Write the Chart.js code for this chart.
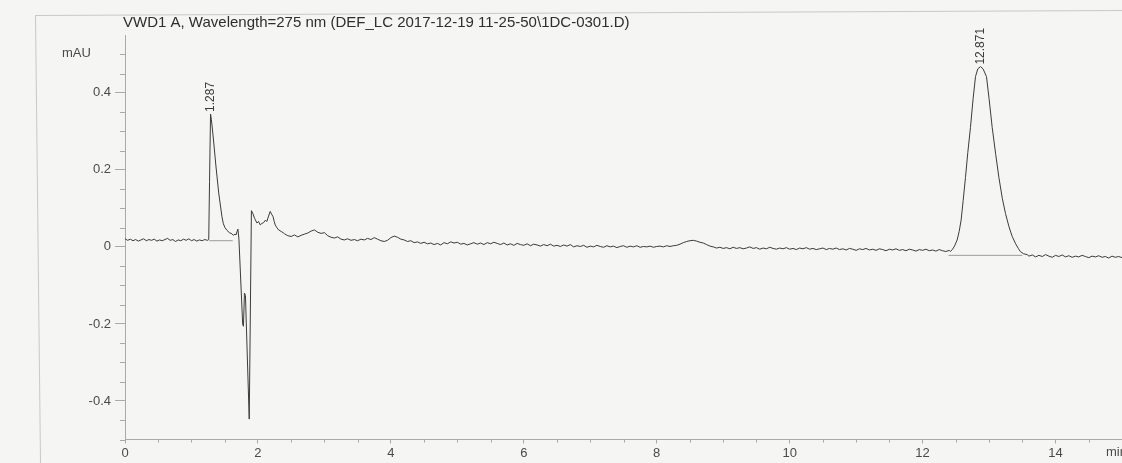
<!DOCTYPE html>
<html>
<head>
<meta charset="utf-8">
<title>VWD1 A chromatogram</title>
<script src="https://cdn.jsdelivr.net/npm/chart.js@4.4.1/dist/chart.umd.min.js"></script>
<style>
  html, body { margin: 0; padding: 0; background: #f5f5f3; }
  #wrap { position: relative; width: 1122px; height: 463px; }
</style>
</head>
<body>
<div id="wrap"><canvas id="chrom"></canvas></div>
<script>
// Detector trace, [retention time (min), absorbance (mAU)], split by region.
const leadBaseline = [
  [0,0.021],[0.04,0.017],[0.08,0.020],[0.12,0.016],[0.16,0.019],[0.20,0.015],[0.24,0.018],[0.28,0.021],
  [0.32,0.016],[0.36,0.019],[0.40,0.017],[0.44,0.020],[0.48,0.015],[0.52,0.018],[0.56,0.016],[0.60,0.019],
  [0.64,0.022],[0.68,0.017],[0.72,0.019],[0.76,0.014],[0.80,0.018],[0.84,0.016],[0.88,0.020],[0.92,0.017],
  [0.96,0.021],[1.00,0.016],[1.04,0.019],[1.08,0.015],[1.12,0.018],[1.16,0.016],[1.20,0.019],[1.24,0.017]
];
const solventFront = [
  [1.26,0.019],[1.272,0.17],[1.287,0.345],[1.30,0.33],[1.33,0.28],[1.368,0.21],[1.41,0.14],[1.459,0.078],
  [1.48,0.060],[1.504,0.050],[1.534,0.043],[1.57,0.037],[1.609,0.034],[1.63,0.030],[1.654,0.033],[1.67,0.031],
  [1.684,0.039],[1.699,0.046],[1.714,0.020],[1.77,-0.20],[1.782,-0.206],[1.797,-0.12],[1.812,-0.126],
  [1.869,-0.447],[1.902,0.094],[1.925,0.086],[1.95,0.074],[1.985,0.062],[2.01,0.066],[2.035,0.057],
  [2.06,0.061],[2.086,0.063],[2.11,0.069],[2.135,0.066],[2.16,0.080],[2.185,0.092],[2.205,0.085],
  [2.226,0.079],[2.245,0.066],[2.26,0.057],[2.285,0.050],[2.311,0.044],[2.35,0.040],[2.386,0.036]
];
const midBaseline = [
  [2.40,0.034],[2.45,0.029],[2.50,0.027],[2.55,0.031],[2.60,0.026],[2.65,0.030],[2.70,0.033],[2.75,0.036],
  [2.80,0.041],[2.85,0.044],[2.90,0.038],[2.95,0.035],[3.00,0.037],[3.05,0.029],[3.10,0.025],[3.15,0.023],
  [3.20,0.026],[3.25,0.020],[3.30,0.018],[3.35,0.021],[3.40,0.017],[3.45,0.019],[3.50,0.016],[3.55,0.020],
  [3.60,0.018],[3.65,0.022],[3.70,0.019],[3.75,0.024],[3.80,0.020],[3.85,0.016],[3.90,0.014],[3.95,0.017],
  [4.00,0.024],[4.05,0.028],[4.10,0.025],[4.15,0.020],[4.20,0.018],[4.25,0.014],[4.30,0.016],[4.35,0.011],
  [4.40,0.013],[4.45,0.009],[4.50,0.012],[4.55,0.008],[4.60,0.010],[4.65,0.006],[4.70,0.009],[4.75,0.005],
  [4.80,0.011],[4.85,0.008],[4.90,0.013],[4.95,0.010],[5.00,0.012],[5.05,0.007],[5.10,0.009],[5.15,0.005],
  [5.20,0.008],[5.25,0.011],[5.30,0.007],[5.35,0.010],[5.40,0.006],[5.45,0.011],[5.50,0.008],[5.55,0.012],
  [5.60,0.009],[5.65,0.006],[5.70,0.010],[5.75,0.005],[5.80,0.008],[5.85,0.004],[5.90,0.009],[5.95,0.006],
  [6.00,0.004],[6.05,0.008],[6.10,0.003],[6.15,0.007],[6.20,0.005],[6.25,0.002],[6.30,0.006],[6.35,0.003],
  [6.40,0.007],[6.45,0.002],[6.50,0.004],[6.55,0.001],[6.60,0.005],[6.65,0.002],[6.70,0.006],[6.75,0.000],
  [6.80,0.003],[6.85,0.001],[6.90,0.004],[6.95,-0.001],[7.00,0.002],[7.05,0.000],[7.10,0.004],[7.15,0.001],
  [7.20,-0.001],[7.25,0.003],[7.30,0.000],[7.35,0.002],[7.40,-0.002],[7.45,0.001],[7.50,0.003],[7.55,-0.001],
  [7.60,0.002],[7.65,0.000],[7.70,0.003],[7.75,-0.001],[7.80,0.001],[7.85,0.000],[7.90,0.002],[7.95,-0.001],
  [8.00,0.001],[8.05,0.002],[8.10,0.000],[8.15,0.003],[8.20,0.001],[8.25,0.003],[8.30,0.004],[8.35,0.007],
  [8.40,0.011],[8.45,0.014],[8.50,0.016],[8.55,0.017],[8.60,0.015],[8.65,0.012],[8.70,0.010],[8.75,0.006],
  [8.80,0.002],[8.85,0.000],[8.90,-0.003],[8.95,-0.001],[9.00,-0.004],[9.05,-0.002],[9.10,-0.005],[9.15,-0.001],
  [9.20,-0.004],[9.25,-0.002],[9.30,-0.005],[9.35,-0.003],[9.40,0.000],[9.45,-0.004],[9.50,-0.002],[9.55,-0.006],
  [9.60,-0.003],[9.65,-0.005],[9.70,-0.001],[9.75,-0.004],[9.80,-0.006],[9.85,-0.003],[9.90,-0.005],[9.95,-0.002],
  [10.00,-0.006],[10.05,-0.004],[10.10,-0.007],[10.15,-0.003],[10.20,-0.005],[10.25,-0.002],[10.30,-0.006],
  [10.35,-0.004],[10.40,-0.007],[10.45,-0.005],[10.50,-0.003],[10.55,-0.007],[10.60,-0.004],[10.65,-0.006],
  [10.70,-0.003],[10.75,-0.007],[10.80,-0.005],[10.85,-0.008],[10.90,-0.004],[10.95,-0.006],[11.00,-0.009],
  [11.05,-0.005],[11.10,-0.007],[11.15,-0.004],[11.20,-0.008],[11.25,-0.006],[11.30,-0.009],[11.35,-0.005],
  [11.40,-0.007],[11.45,-0.010],[11.50,-0.006],[11.55,-0.008],[11.60,-0.005],[11.65,-0.009],[11.70,-0.007],
  [11.75,-0.010],[11.80,-0.006],[11.85,-0.008],[11.90,-0.011],[11.95,-0.007],[12.00,-0.009],[12.05,-0.006],
  [12.10,-0.010],[12.15,-0.008],[12.20,-0.011],[12.25,-0.007],[12.30,-0.010],[12.35,-0.012]
];
const mainPeak = [
  [12.40,-0.009],[12.42,-0.012],[12.45,-0.006],[12.48,0.002],[12.52,0.018],[12.55,0.040],[12.58,0.070],
  [12.61,0.120],[12.645,0.180],[12.68,0.245],[12.72,0.310],[12.76,0.385],[12.796,0.442],[12.83,0.462],
  [12.871,0.468],[12.91,0.462],[12.961,0.442],[13.00,0.385],[13.047,0.310],[13.10,0.240],[13.148,0.180],
  [13.20,0.125],[13.247,0.087],[13.30,0.052],[13.348,0.027],[13.40,0.008],[13.44,-0.004],[13.47,-0.012],
  [13.52,-0.018],[13.573,-0.020]
];
const tailBaseline = [
  [13.60,-0.024],[13.65,-0.021],[13.70,-0.026],[13.75,-0.022],[13.80,-0.025],[13.85,-0.020],[13.90,-0.024],
  [13.95,-0.027],[14.00,-0.022],[14.05,-0.025],[14.10,-0.021],[14.15,-0.026],[14.20,-0.023],[14.25,-0.027],
  [14.30,-0.024],[14.35,-0.026],[14.40,-0.022],[14.45,-0.025],[14.50,-0.028],[14.55,-0.024],[14.60,-0.026],
  [14.65,-0.023],[14.70,-0.027],[14.75,-0.025],[14.80,-0.029],[14.85,-0.024],[14.90,-0.027],[14.95,-0.025],
  [15.00,-0.028]
];

// Integration baselines drawn under the two integrated peaks.
const peak1Baseline = [[1.268,0.016],[1.62,0.016]];
const peak2Baseline = [[12.39,-0.022],[13.50,-0.022]];

// Peak annotations: retention time and its printed label.
const peakRetention = [1.287, 12.871];
const peakLabels = ['1.287', '12.871'];

// Axis ticks.
const xMajorTicks = [0, 2, 4, 6, 8, 10, 12, 14];
const xMinorTicks = [0.5,1,1.5,2.5,3,3.5,4.5,5,5.5,6.5,7,7.5,8.5,9,9.5,10.5,11,11.5,12.5,13,13.5,14.5];
const yMajorTicks = [-0.4, -0.2, 0, 0.2, 0.4];
const yMinorTicks = [-0.5,-0.45,-0.35,-0.3,-0.25,-0.15,-0.1,-0.05,0.05,0.1,0.15,0.25,0.3,0.35,0.45,0.5];

const titleText = 'VWD1 A, Wavelength=275 nm (DEF_LC 2017-12-19 11-25-50\\1DC-0301.D)';
const yUnit = 'mAU';
const xUnit = 'min';

const FONT = "'Liberation Sans', Arial, sans-serif";
const trace = [].concat(leadBaseline, solventFront, midBaseline, mainPeak, tailBaseline);
const toXY = arr => arr.map(p => ({ x: p[0], y: p[1] }));

const paperPlugin = {
  id: 'paper',
  beforeDraw(chart) {
    const ctx = chart.ctx;
    ctx.save();
    ctx.fillStyle = '#f5f5f3';
    ctx.fillRect(0, 0, chart.width, chart.height);
    // sheet edge
    ctx.strokeStyle = '#c9c9c6';
    ctx.lineWidth = 1;
    ctx.beginPath();
    ctx.moveTo(35, 15.5); ctx.lineTo(1122, 10.5);
    ctx.moveTo(35.5, 15.5); ctx.lineTo(40.5, 463);
    ctx.stroke();
    ctx.restore();
  },
  beforeDatasetsDraw(chart) {
    const ctx = chart.ctx, xs = chart.scales.x, ys = chart.scales.y;
    const area = chart.chartArea;
    ctx.save();
    ctx.strokeStyle = '#a9a9a7';
    ctx.lineWidth = 1;
    ctx.beginPath();
    yMinorTicks.forEach(v => {
      const y = Math.round(ys.getPixelForValue(v)) + 0.5;
      ctx.moveTo(area.left - 5, y); ctx.lineTo(area.left, y);
    });
    xMinorTicks.forEach(v => {
      const x = Math.round(xs.getPixelForValue(v)) + 0.5;
      ctx.moveTo(x, area.bottom); ctx.lineTo(x, area.bottom + 3);
    });
    ctx.stroke();
    ctx.restore();
  },
  afterDraw(chart) {
    const ctx = chart.ctx, xs = chart.scales.x, ys = chart.scales.y;
    ctx.save();
    ctx.fillStyle = '#2e2e2e';
    ctx.font = '15px ' + FONT;
    ctx.textBaseline = 'alphabetic';
    ctx.textAlign = 'left';
    ctx.fillText(titleText, 123, 27);
    ctx.fillStyle = '#4a4a4a';
    ctx.font = '13px ' + FONT;
    ctx.fillText(yUnit, 62, 57);
    ctx.textBaseline = 'top';
    ctx.fillText(xUnit, 1106, 446);
    // peak retention labels, rotated above each apex
    ctx.font = '12px ' + FONT;
    ctx.fillStyle = '#3a3a3a';
    ctx.textBaseline = 'middle';
    peakRetention.forEach((t, i) => {
      const apex = trace.find(p => p[0] === t);
      const x = xs.getPixelForValue(t);
      const y = ys.getPixelForValue(apex[1]) - 2;
      ctx.save();
      ctx.translate(x, y);
      ctx.rotate(-Math.PI / 2);
      ctx.fillText(peakLabels[i], 0, 0);
      ctx.restore();
    });
    ctx.restore();
  }
};

new Chart(document.getElementById('chrom'), {
  type: 'line',
  data: {
    datasets: [
      { data: toXY(trace), borderColor: '#3b3b3b', borderWidth: 1, pointRadius: 0, tension: 0, fill: false },
      { data: toXY(peak1Baseline), borderColor: '#9b9b9b', borderWidth: 1, pointRadius: 0, fill: false },
      { data: toXY(peak2Baseline), borderColor: '#9b9b9b', borderWidth: 1, pointRadius: 0, fill: false }
    ]
  },
  options: {
    responsive: true,
    maintainAspectRatio: false,
    animation: false,
    parsing: true,
    layout: { padding: { top: 35, left: 0, right: 0, bottom: 0 } },
    plugins: { legend: { display: false }, tooltip: { enabled: false }, title: { display: false } },
    scales: {
      x: {
        type: 'linear', min: 0, max: 15,
        afterBuildTicks: s => { s.ticks = xMajorTicks.map(v => ({ value: v })); },
        afterFit: s => { s.height = 23.5; },
        grid: { display: true, drawOnChartArea: false, drawTicks: true, tickLength: 4, color: '#a9a9a7' },
        border: { display: true, color: '#a9a9a7', width: 1 },
        ticks: { maxRotation: 0, autoSkip: false, padding: 2, color: '#4a4a4a', font: { family: FONT, size: 13 },
          callback: v => String(v) }
      },
      y: {
        type: 'linear', min: -0.5, max: 0.55,
        afterBuildTicks: s => { s.ticks = yMajorTicks.map(v => ({ value: v })); },
        afterFit: s => { s.width = 125; },
        grid: { display: true, drawOnChartArea: false, drawTicks: true, tickLength: 10, color: '#a9a9a7' },
        border: { display: true, color: '#a9a9a7', width: 1 },
        ticks: { padding: 4, color: '#4a4a4a', font: { family: FONT, size: 13 },
          callback: v => (v === 0 ? '0' : v.toFixed(1)) }
      }
    }
  },
  plugins: [paperPlugin]
});
</script>
</body>
</html>
